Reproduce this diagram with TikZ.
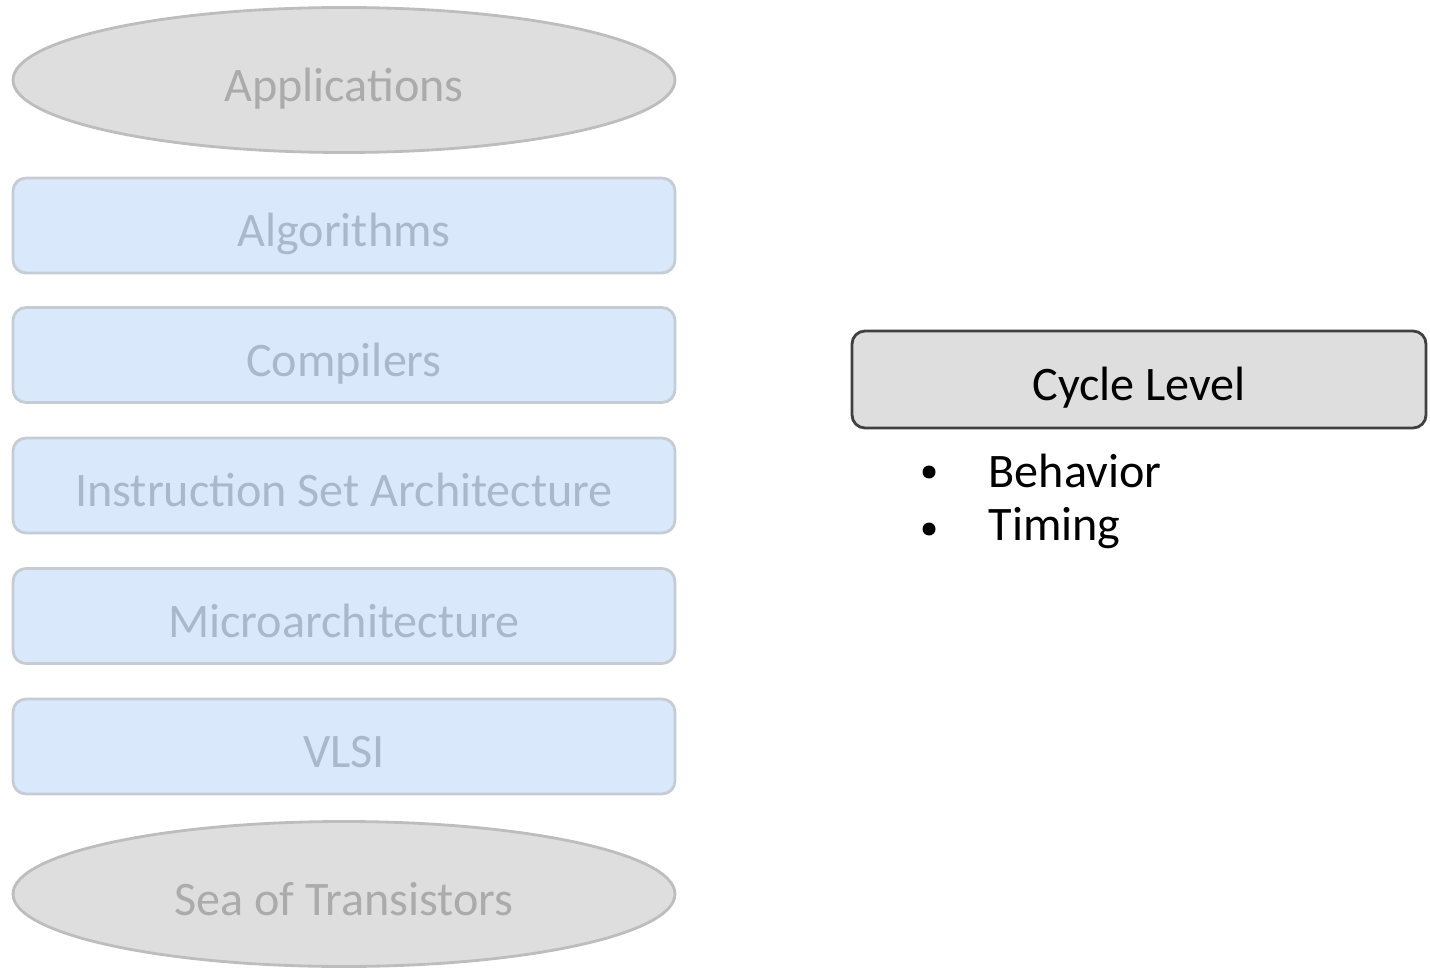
\documentclass[tikz,border=0pt]{standalone}
\usepackage{fontspec}
\setmainfont{Carlito}
\usetikzlibrary{shapes.geometric}
\definecolor{ovalfill}{HTML}{DEDEDE}
\definecolor{ovaldraw}{HTML}{BDBDBD}
\definecolor{ovaltext}{HTML}{ABABAB}
\definecolor{layerfill}{HTML}{D9E8FB}
\definecolor{layerdraw}{HTML}{C6CCD4}
\definecolor{layertext}{HTML}{A9B8CA}
\definecolor{cyclefill}{HTML}{DEDEDE}
\definecolor{cycledraw}{HTML}{404040}
\tikzset{
  txt/.style={font=\fontsize{13.7}{16}\selectfont},
  centred/.style={txt, text height=12.2pt, text depth=0pt},
  oval/.style={ellipse, centred, draw=ovaldraw, fill=ovalfill, text=ovaltext, line width=0.8pt,
    minimum width=6.62cm, minimum height=1.45cm, inner sep=0pt},
  layer/.style={rectangle, rounded corners=0.13cm, centred, draw=layerdraw, fill=layerfill,
    text=layertext, line width=0.8pt, minimum width=6.62cm, minimum height=0.95cm, inner sep=0pt},
  cyclebox/.style={rectangle, rounded corners=0.13cm, centred, draw=cycledraw, fill=cyclefill,
    text=black, line width=0.8pt, minimum width=5.74cm, minimum height=0.97cm, inner sep=0pt},
  item/.style={txt, anchor=west, inner sep=0pt},
  dot/.style={circle, fill=black, inner sep=0pt, minimum size=0.13cm}
}
\begin{document}
\begin{tikzpicture}
\useasboundingbox (0,0) rectangle (14.3,-9.68);
% abstraction stack
\node[oval]  (app)  at (3.44,-0.80) {Applications};
\node[layer] (alg)  at (3.44,-2.255) {Algorithms};
\node[layer] (comp) at (3.44,-3.55) {Compilers};
\node[layer] (isa)  at (3.44,-4.855) {Instruction Set Architecture};
\node[layer] (uarch) at (3.44,-6.16) {Microarchitecture};
\node[layer] (vlsi) at (3.44,-7.465) {VLSI};
\node[oval]  (sea)  at (3.44,-8.94) {Sea of Transistors};
% cycle-level modeling
\node[cyclebox] (cycle) at (11.39,-3.795) {Cycle Level};
\node[item] (b1) at (9.88,-4.71) {Behavior};
\node[item] (b2) at (9.88,-5.28) {Timing};
\node[dot] (d1) at (9.29,-4.72) {};
\node[dot] (d2) at (9.29,-5.29) {};
\end{tikzpicture}
\end{document}
